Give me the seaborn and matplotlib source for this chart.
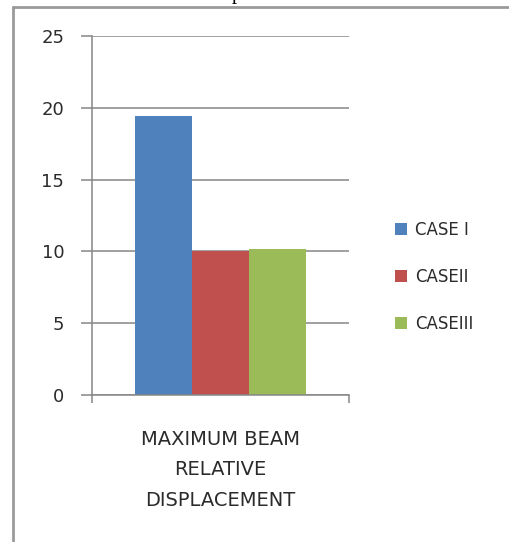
import matplotlib
matplotlib.use("Agg")
import matplotlib.pyplot as plt
from matplotlib.lines import Line2D
from matplotlib.patches import Patch
import seaborn as sns
import pandas as pd

# data
category = ["MAXIMUM BEAM\nRELATIVE\nDISPLACEMENT"]
cases = ["CASE I", "CASEII", "CASEIII"]
values = [19.45, 10.05, 10.2]
colors = ["#4F81BD", "#C0504D", "#9BBB59"]
yticks = [0, 5, 10, 15, 20, 25]

sns.set_theme(style="white")
plt.rcParams["font.family"] = ["DejaVu Sans"]

df = pd.DataFrame({
    "metric": category * len(cases),
    "case": cases,
    "value": values,
})

W, H = 509, 542
fig = plt.figure(figsize=(W / 100, H / 100), dpi=100)
fig.patch.set_facecolor("white")

ax = fig.add_axes([92 / W, 1 - 395 / H, 257 / W, 359 / H])
sns.barplot(data=df, x="metric", y="value", hue="case", palette=colors,
            width=0.665, saturation=1, ax=ax, legend=False, errorbar=None,
            linewidth=0)

axis_grey = "#868686"
text_col = "#2b2b2b"
ax.set_xlim(-0.5, 0.5)
ax.set_ylim(0, 25)
ax.set_yticks(yticks)
ax.set_yticklabels([str(t) for t in yticks], fontsize=13, color=text_col)
ax.yaxis.grid(True, color=axis_grey, linewidth=1.1)
ax.set_axisbelow(True)
ax.set_xlabel("")
ax.set_ylabel("")
for side in ["top", "right"]:
    ax.spines[side].set_visible(False)
for side in ["left", "bottom"]:
    ax.spines[side].set_color(axis_grey)
    ax.spines[side].set_linewidth(1.1)

ax.tick_params(axis="y", which="major", direction="out", length=8,
               width=1.1, color=axis_grey, pad=12, left=True)
ax.tick_params(axis="x", which="major", length=0, pad=25)
ax.set_xticks([0])
ax.set_xticklabels(category, fontsize=14, color=text_col, linespacing=1.78)
ax.set_xticks([-0.5, 0.5], minor=True)
ax.tick_params(axis="x", which="minor", direction="out", length=6,
               width=1.1, color=axis_grey, bottom=True)

handles = [Patch(facecolor=c, edgecolor="none") for c in colors]
leg = fig.legend(handles, cases, loc="center left",
                 bbox_to_anchor=(388 / W, 1 - 277 / H), frameon=False,
                 fontsize=12, handlelength=0.75, handleheight=0.75,
                 handletextpad=0.45, labelspacing=1.75, borderaxespad=0)
for t in leg.get_texts():
    t.set_color(text_col)

# outer frame lines (left and top)
fig.add_artist(Line2D([12.5 / W, 12.5 / W], [0, 1 - 7 / H],
                      transform=fig.transFigure, color="#9a9a9a", linewidth=2))
fig.add_artist(Line2D([12.5 / W, 1], [1 - 7 / H, 1 - 7 / H],
                      transform=fig.transFigure, color="#9a9a9a", linewidth=2))
fig.text(237 / W, 1 + 1 / H, "p", family="Liberation Serif", fontsize=15,
         color="black", ha="center", va="baseline")

fig.savefig("out.png", dpi=100, facecolor="white")
